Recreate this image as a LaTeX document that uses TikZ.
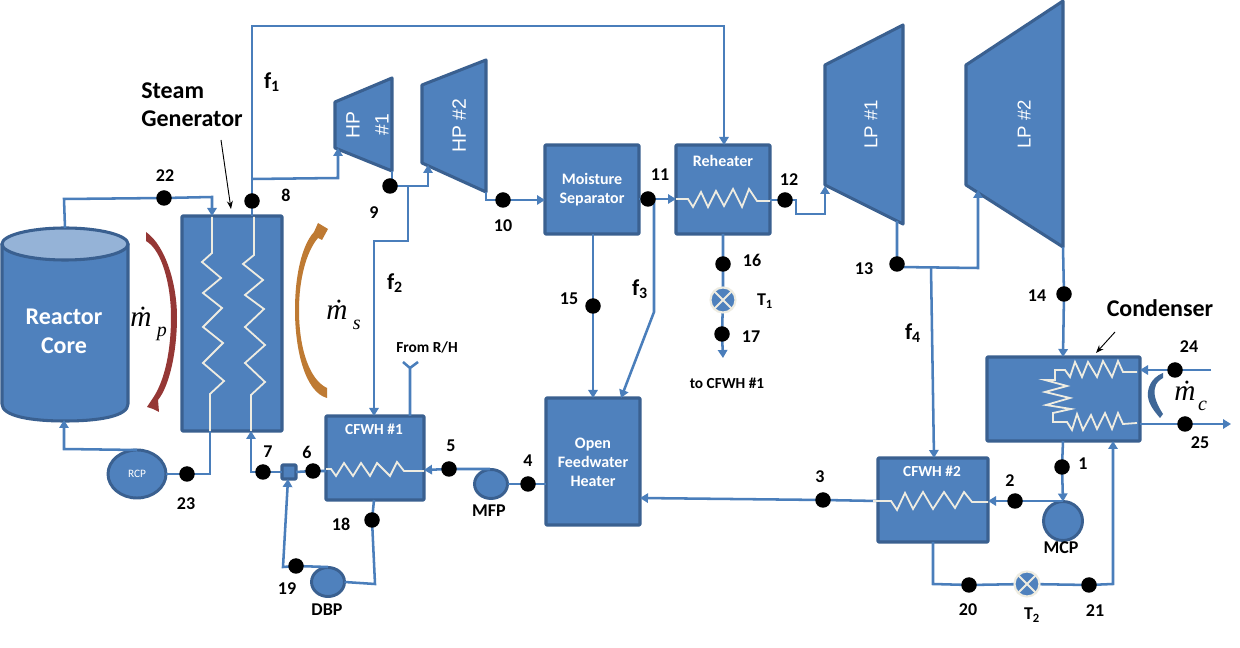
\documentclass[tikz,border=0pt]{standalone}
\usepackage{fontspec}
\setmainfont{Carlito}
\newfontfamily\arialf{Liberation Sans}
\newfontfamily\timesf{Liberation Serif}
\usetikzlibrary{arrows.meta,shapes.geometric}
\definecolor{eqfill}{HTML}{4F81BD}
\definecolor{eqedge}{HTML}{3A6090}
\definecolor{pipe}{HTML}{4A7EBB}
\definecolor{coilc}{HTML}{EEECE1}
\definecolor{lidc}{HTML}{95B3D7}
\definecolor{redarc}{HTML}{953735}
\definecolor{orgarc}{HTML}{BE7A33}
\definecolor{bluearc}{HTML}{3F6797}
\pgfdeclarelayer{equip}
\pgfdeclarelayer{over}
\pgfsetlayers{equip,main,over}
\tikzset{
  eqbox/.style={draw=eqedge,fill=eqfill,line width=2.3pt,rounded corners=0.6pt,inner sep=0pt,outer sep=0pt,line join=round},
  turb/.style={draw=eqedge,fill=eqfill,line width=2.3pt,line join=round},
  pumpc/.style={ellipse,draw=eqedge,fill=eqfill,line width=2.2pt,inner sep=0pt,outer sep=0pt},
  valve/.style={circle,draw=coilc,fill=eqfill,line width=1.6pt,minimum size=25*0.75pt,inner sep=0pt,outer sep=0pt},
  flow/.style={draw=pipe,line width=1.9pt,line join=miter},
  flowa/.style={flow,-{Triangle[length=6pt,width=7pt]}},
  coil/.style={draw=coilc,line width=1.35pt,line join=miter},
  dot/.style={circle,fill=black,minimum size=15.5*0.75pt,inner sep=0pt,outer sep=0pt},
  num/.style={font=\fontsize{13.5pt}{15pt}\bfseries\selectfont,text=black,inner sep=0pt},
  blab/.style={font=\fontsize{18pt}{21pt}\bfseries\selectfont,text=black,inner sep=0pt,align=left},
  wlab/.style={font=\fontsize{12pt}{14.2pt}\bfseries\selectfont,text=white,inner sep=0pt,align=center},
  slab/.style={font=\fontsize{11.5pt}{13pt}\bfseries\selectfont,text=black,inner sep=0pt},
  flab/.style={font=\fontsize{11.5pt}{13pt}\bfseries\selectfont,text=white,inner sep=0pt,align=center},
  fsym/.style={font=\fontsize{17pt}{20pt}\bfseries\selectfont,text=black,inner sep=0pt},
  turbt/.style={font=\arialf\fontsize{14.5pt}{21.7pt}\selectfont,text=white,inner sep=0pt,align=center,rotate=90},
  mdot/.style={font=\timesf\itshape\fontsize{22pt}{22pt}\selectfont,text=black,inner sep=0pt},
  thin arrow/.style={draw=black,line width=0.7pt,-{Stealth[length=6pt,width=4.5pt]}}
}
\newcommand\plantbox[5]{\node[eqbox,minimum width={(#4-#2)*0.75pt},minimum height={(#5-#3)*0.75pt}] (#1) at ({(#2+#4)/2},{(#3+#5)/2}) {};}
\newcommand\statedot[3]{\node[dot] (#1) at (#2,#3) {};}
\newcommand\way[3]{\coordinate (#1) at (#2,#3);}
\begin{document}
\begin{tikzpicture}[x=0.75pt,y=-0.75pt]
\useasboundingbox (0,0) rectangle (1240,648);
\begin{pgfonlayer}{equip}
\fill[white] (0,0) rectangle (1240,648);
% reactor
\draw[eqbox,rounded corners=0pt] (2,244) -- (2,404) .. controls (2,416) and (30,421) .. (65,421) .. controls (100,421) and (128,416) .. (128,404) -- (128,244) -- cycle;
\node[ellipse,draw=eqedge,fill=lidc,line width=2.3pt,minimum width=126*0.75pt,minimum height=32*0.75pt,inner sep=0pt,outer sep=0pt] (rtop) at (65,244) {};
% boxes
\plantbox{sg}{182}{216}{282}{431}
\plantbox{ms}{545}{145}{639}{234}
\plantbox{rh}{676}{145}{770}{234}
\plantbox{ofw}{546}{398}{640}{525}
\plantbox{fw1}{326}{416}{424}{500}
\plantbox{fw2}{878}{458}{988}{542}
\plantbox{cond}{987}{357}{1140}{441}
% turbines
\draw[turb] (335,102) -- (392,78) -- (392,171) -- (335,148) -- cycle;
\draw[turb] (422,85) -- (486,60) -- (486,192) -- (422,163) -- cycle;
\draw[turb] (825,65) -- (903,25) -- (903,224) -- (825,185) -- cycle;
\draw[turb] (966,65) -- (1063,1) -- (1063,247) -- (966,185) -- cycle;
% pumps
\node[pumpc,minimum width=58*0.75pt,minimum height=48*0.75pt] (rcp) at (137,474) {};
\node[pumpc,minimum width=33*0.75pt,minimum height=29*0.75pt] (mfp) at (491,484) {};
\node[pumpc,minimum width=33*0.75pt,minimum height=29*0.75pt] (dbp) at (328,582) {};
\node[pumpc,circle,minimum size=39*0.75pt] (mcp) at (1063,521) {};
\node[eqbox,minimum size=14*0.75pt] (mix) at (289,472) {};
\end{pgfonlayer}
\begin{pgfonlayer}{over}
% valves
\node[valve] (t1) at (723,300) {};
\node[valve] (t2) at (1027,584) {};
\draw[coil] (t1.45) -- (t1.225) (t1.135) -- (t1.315);
\draw[coil] (t2.45) -- (t2.225) (t2.135) -- (t2.315);
% state points
\statedot{d1}{1062}{467}\statedot{d2}{1015}{501}\statedot{d3}{823}{500}\statedot{d4}{528}{484}
\statedot{d5}{449}{469}\statedot{d6}{313}{471}\statedot{d7}{263}{472}\statedot{d8}{252}{201}
\statedot{d9}{390}{186}\statedot{d10}{503}{200}\statedot{d11}{648}{199}\statedot{d12}{785}{200}
\statedot{d13}{897}{264}\statedot{d14}{1064}{294}\statedot{d15}{593}{306}\statedot{d16}{723}{264}
\statedot{d17}{722}{334}\statedot{d18}{372}{520}\statedot{d19}{296}{566}\statedot{d20}{969}{585}
\statedot{d21}{1089}{585}\statedot{d22}{164}{198}\statedot{d23}{187}{474}\statedot{d24}{1175}{370}
\statedot{d25}{1185}{424}
% coils
\draw[coil] (212,217) -- (212,253) -- (202,262) -- (221,278) -- (203,293) -- (222,308) -- (203,327) -- (223,343) -- (203,363) -- (224,381) -- (210,394) -- (210,431);
\draw[coil] (254,217) -- (254,255) -- (243,264) -- (263,280) -- (245,295) -- (264,309) -- (245,327) -- (265,345) -- (245,363) -- (265,382) -- (251,395) -- (251,431);
\draw[coil] (676,199) -- (688,199) -- (693,207) -- (701,192) -- (708,207) -- (716,191) -- (724,206) -- (733,189) -- (742,207) -- (749,189) -- (757,201) -- (770,201);
\draw[coil] (326,469) -- (331,469) -- (336,476) -- (344,463) -- (353,476) -- (361,463) -- (370,476) -- (377,463) -- (390,476) -- (397,462) -- (404,471) -- (424,471);
\draw[coil] (873,501) -- (891,501) -- (897,510) -- (905,493) -- (913,509) -- (923,492) -- (933,509) -- (944,492) -- (955,508) -- (964,492) -- (972,502) -- (988,502);
\draw[coil] (1137,372) -- (1123,372) -- (1118,361) -- (1112,377) -- (1103,361) -- (1097,377) -- (1088,362) -- (1082,377) -- (1075,362) -- (1070,377) -- (1065,370) -- (1055,370) -- (1055,380) -- (1045,380) -- (1067,386) -- (1045,392) -- (1070,398) -- (1046,405) -- (1071,409) -- (1053,413) -- (1053,422) -- (1067,422) -- (1072,430) -- (1077,414) -- (1083,430) -- (1091,415) -- (1097,429) -- (1105,413) -- (1112,429) -- (1118,413) -- (1123,424) -- (1137,423);
\end{pgfonlayer}
% waypoints
\way{a1}{64}{199}\way{a2}{212}{197}\way{a3}{212}{216}
\way{b1}{252}{216}\way{b2}{252}{179}\way{b3}{252}{26}\way{b4}{724}{26}\way{b5}{724}{145}
\way{b6}{338}{178}\way{b7}{338}{148}
\way{c1}{392}{171}\way{c2}{392}{186}\way{c3}{428}{186}\way{c4}{428}{165}
\way{c5}{408}{186}\way{c6}{408}{241}\way{c7}{374}{241}\way{c8}{374}{416}
\way{e1}{486}{192}\way{e2}{486}{200}\way{e3}{545}{200}
\way{g1}{639}{199}\way{g2}{676}{199}\way{g3}{654}{199}\way{g4}{654}{312}\way{g5}{621}{398}
\way{h1}{770}{200}\way{h2}{796}{200}\way{h3}{796}{214}\way{h4}{825}{214}\way{h5}{825}{186}
\way{i1}{897}{221}\way{i6}{897}{267}\way{i2}{978}{268}\way{i3}{978}{190}\way{i4}{931}{267}\way{i5}{934}{458}
\way{j1}{1063}{247}\way{j2}{1063}{357}
\way{k1}{1211}{370}\way{k2}{1140}{370}\way{k3}{1140}{424}\way{k4}{1231}{424}
\way{l1}{1063}{441}\way{l2}{1063}{501}\way{l3}{988}{501}
\way{m1}{878}{501}\way{m2}{640}{498}
\way{n1}{933}{542}\way{n2}{933}{584}\way{n3}{1113}{584}\way{n4}{1113}{441}
\way{o1}{593}{234}\way{o2}{593}{398}
\way{p1}{723}{234}\way{p2}{723}{358}
\way{q1}{546}{484}\way{q2}{490}{469}\way{q3}{424}{470}
\way{r1}{410}{416}\way{r2}{410}{368}\way{r3}{403}{362}\way{r4}{418}{362}
\way{s1}{326}{471}\way{s2}{251}{472}\way{s3}{251}{431}
\way{t0}{137}{450}\way{t3}{64}{449}\way{t4}{64}{420}
\way{u1}{210}{474}\way{u2}{210}{431}
\way{v1}{374}{500}\way{v2}{375}{584}\way{v3}{328}{567}\way{v4}{283}{567}\way{v5}{288}{479}
% connectors
\draw[flowa] (rtop.north) -- (a1) -- (d22.center) -- (a2) -- (a3);
\draw[flowa] (b1) -- (d8.center) -- (b2) -- (b3) -- (b4) -- (b5);
\draw[flowa] (b2) -- (b6) -- (b7);
\draw[flowa] (c1) -- (c2) -- (d9.center) -- (c3) -- (c4);
\draw[flowa] (c5) -- (c6) -- (c7) -- (c8);
\draw[flowa] (e1) -- (e2) -- (d10.center) -- (e3);
\draw[flowa] (g1) -- (d11.center) -- (g2);
\draw[flowa] (g3) -- (g4) -- (g5);
\draw[flowa] (h1) -- (d12.center) -- (h2) -- (h3) -- (h4) -- (h5);
\draw[flowa] (i1) -- (d13.center) -- (i6) -- (i2) -- (i3);
\draw[flowa] (i4) -- (i5);
\draw[flowa] (j1) -- (d14.center) -- (j2);
\draw[flowa] (k1) -- (d24.center) -- (k2);
\draw[flowa] (k3) -- (d25.center) -- (k4);
\draw[flowa] (l1) -- (d1.center) -- (mcp.north);
\draw[flowa] (l2) -- (d2.center) -- (l3);
\draw[flowa] (m1) -- (d3.center) -- (m2);
\draw[flowa] (n1) -- (n2) -- (d20.center) -- (t2.center) -- (d21.center) -- (n3) -- (n4);
\draw[flowa] (o1) -- (d15.center) -- (o2);
\draw[flowa] (p1) -- (d16.center) -- (t1.center) -- (d17.center) -- (p2);
\draw[flow] (q1) -- (d4.center) -- (mfp.east);
\draw[flowa] (q2) -- (d5.center) -- (q3);
\draw[flow] (r1) -- (r2) -- (r3) (r2) -- (r4);
\draw[flow] (s1) -- (d6.center) -- (mix.east);
\draw[flowa] (mix.west) -- (d7.center) -- (s2) -- (s3);
\draw[flowa] (t0) -- (t3) -- (t4);
\draw[flow] (rcp.east) -- (d23.center) -- (u1) -- (u2);
\draw[flow] (v1) -- (d18.center) -- (v2) -- (dbp.east);
\draw[flowa] (v3) -- (d19.center) -- (v4) -- (v5);
\begin{pgfonlayer}{over}
\node[inner sep=0pt,align=center,text=white,font=\fontsize{18pt}{21.8pt}\bfseries\selectfont] (rlab) at (64,331) {Reactor\\Core};
\node[turbt] (thp1) at (367.5,125) {HP\\\#1};
\node[turbt] (thp2) at (459,125.5) {HP \#2};
\node[turbt,font=\arialf\fontsize{14pt}{16pt}\selectfont] (tlp1) at (871,124) {LP \#1};
\node[turbt,font=\arialf\fontsize{14pt}{16pt}\selectfont] (tlp2) at (1024,124) {LP \#2};
\node[inner sep=0pt,text=white,font=\fontsize{8.5pt}{10pt}\selectfont] (rcpt) at (137,474) {RCP};
% curved flow marks
\fill[redarc] (146,232) .. controls (166,246) and (177,285) .. (177,317) .. controls (177,350) and (170,385) .. (158,400) -- (159,412) -- (153,409) -- (147,407) -- (153,398) .. controls (165,380) and (171,350) .. (171,317) .. controls (171,285) and (162,250) .. (146,241) -- cycle;
\fill[orgarc] (327,398) .. controls (305,392) and (295,350) .. (295,310) .. controls (295,275) and (302,245) .. (314,232) -- (318,223) -- (328,229) -- (322,240) -- (318,238) .. controls (306,252) and (299,280) .. (299,310) .. controls (299,350) and (310,380) .. (327,388) -- cycle;
\fill[bluearc] (1163,373) .. controls (1150,378) and (1147,390) .. (1148,397) .. controls (1149,405) and (1155,412) .. (1160,418) -- (1163,414) .. controls (1157,405) and (1153,395) .. (1155,388) .. controls (1156,382) and (1160,380) .. (1163,378) -- cycle;
% thin arrows
\way{ta1}{221}{140}\way{ta2}{231}{209}\way{tb1}{1115}{332}\way{tb2}{1096}{353}
\draw[thin arrow] (ta1) -- (ta2);
\draw[thin arrow] (tb1) -- (tb2);
% box texts
\node[wlab] (tms) at (592,189.5) {Moisture\\Separator};
\node[wlab] (trh) at (723,161) {Reheater};
\node[wlab] (tofw) at (593,462) {Open\\Feedwater\\Heater};
\node[flab] (tf1) at (374,429) {CFWH \#1};
\node[flab] (tf2) at (932,471) {CFWH \#2};
% outer texts
\node[blab,anchor=north west] (tsg) at (141,82) {Steam\\Generator};
\node[blab] (tcond) at (1160,308) {Condenser};
\node[slab] (tfrom) at (427,347) {From R/H};
\node[slab] (tto) at (727,383) {to CFWH \#1};
\node[num] (tmfp) at (489,511) {MFP};
\node[num] (tdbp) at (327,610) {DBP};
\node[num] (tmcp) at (1061,548) {MCP};
\node[num] (lt1) at (765,301) {T\textsubscript{1}};
\node[num] (lt2) at (1032,615) {T\textsubscript{2}};
\node[fsym] (lf1) at (272,82) {f\textsubscript{1}};
\node[fsym] (lf2) at (395,283) {f\textsubscript{2}};
\node[fsym] (lf3) at (640,289) {f\textsubscript{3}};
\node[fsym] (lf4) at (913,333) {f\textsubscript{4}};
\node[num] (n1l) at (1083,464) {1};
\node[num] (n2l) at (1010,481) {2};
\node[num] (n3l) at (820,477) {3};
\node[num] (n4l) at (528,461) {4};
\node[num] (n5l) at (451,446) {5};
\node[num] (n6l) at (307,452) {6};
\node[num] (n7l) at (268,452) {7};
\node[num] (n8l) at (286,195) {8};
\node[num] (n9l) at (374,213) {9};
\node[num] (n10l) at (503,226) {10};
\node[num] (n11l) at (660,175) {11};
\node[num] (n12l) at (789,180) {12};
\node[num] (n13l) at (864,269) {13};
\node[num] (n14l) at (1037,296) {14};
\node[num] (n15l) at (569,299) {15};
\node[num] (n16l) at (752,260) {16};
\node[num] (n17l) at (751,337) {17};
\node[num] (n18l) at (341,524) {18};
\node[num] (n19l) at (287,589) {19};
\node[num] (n20l) at (968,610) {20};
\node[num] (n21l) at (1095,611) {21};
\node[num] (n22l) at (165,176) {22};
\node[num] (n23l) at (186,504) {23};
\node[num] (n24l) at (1189,347) {24};
\node[num] (n25l) at (1200,443) {25};
% mass flow symbols
\node[mdot,anchor=base west] (mp) at (130,327) {\.{m}\kern4pt\raisebox{-7pt}{\fontsize{15pt}{15pt}\selectfont p}};
\node[mdot,anchor=base west] (ms2) at (326,320) {\.{m}\kern4pt\raisebox{-7pt}{\fontsize{15pt}{15pt}\selectfont s}};
\node[mdot,anchor=base west] (mc) at (1174,401) {\.{m}\kern2pt\raisebox{-7pt}{\fontsize{15pt}{15pt}\selectfont c}};
\end{pgfonlayer}
\end{tikzpicture}
\end{document}
